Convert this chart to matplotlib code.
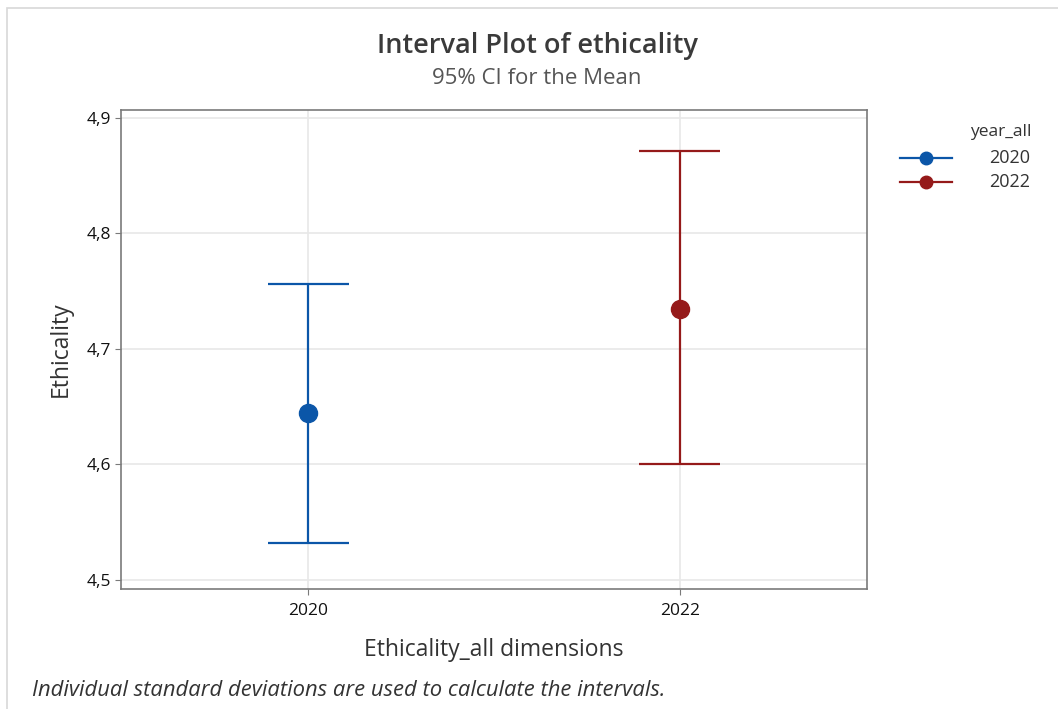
import matplotlib
matplotlib.use("Agg")
import matplotlib.pyplot as plt
from matplotlib.ticker import FuncFormatter
from matplotlib.lines import Line2D
from matplotlib.patches import Rectangle

# Interval data (mean and 95% CI bounds)
years = ["2020", "2022"]
means = [4.645, 4.735]
lower = [4.532, 4.600]
upper = [4.756, 4.871]
colors = ["#0B56A8", "#951A1A"]
y_ticks = [4.5, 4.6, 4.7, 4.8, 4.9]

plt.rcParams["font.family"] = ["Open Sans", "DejaVu Sans"]

W, H = 1058, 709
fig = plt.figure(figsize=(W / 100, H / 100), dpi=100)
ax = fig.add_axes([121 / W, 1 - 589 / H, (867 - 121) / W, (589 - 110) / H])

cap = 0.109
for i, (m, lo, hi, c) in enumerate(zip(means, lower, upper, colors)):
    ax.vlines(i, lo, hi, color=c, lw=1.6, zorder=3)
    ax.hlines([lo, hi], i - cap, i + cap, color=c, lw=1.6, zorder=3)
    ax.plot(i, m, "o", color=c, ms=13, zorder=4)

ax.set_xlim(-0.503, 1.503)
ax.set_ylim(4.4922, 4.9069)
ax.set_xticks(range(len(years)))
ax.set_xticklabels(years)
ax.set_yticks(y_ticks)
ax.yaxis.set_major_formatter(FuncFormatter(lambda v, p: f"{v:.1f}".replace(".", ",")))
ax.tick_params(labelsize=12.5, length=4, color="#7a7a7a", labelcolor="#111111", pad=3)
ax.tick_params(axis="x", pad=6)
ax.grid(True, color="#e8e8e8", lw=1.2, zorder=0)
ax.set_axisbelow(True)
for s in ax.spines.values():
    s.set_color("#7a7a7a")
    s.set_linewidth(1.2)

ax.set_ylabel("Ethicality", fontsize=16.5, color="#333333", labelpad=10)
ax.set_xlabel("Ethicality_all dimensions", fontsize=16.5, color="#333333", labelpad=14)

fig.text(537 / W, 1 - 46 / H, "Interval Plot of ethicality", ha="center", va="center",
         fontsize=19.5, color="#3a3a3a", fontweight="semibold")
fig.text(537 / W, 1 - 78 / H, "95% CI for the Mean", ha="center", va="center",
         fontsize=16, color="#555555")
fig.text(32 / W, 1 - 691 / H,
         "Individual standard deviations are used to calculate the intervals.",
         ha="left", va="center", fontsize=15.8, style="italic", color="#333333")

# legend, laid out by hand in figure pixels
fig.text(1032 / W, 1 - 132 / H, "year_all", ha="right", va="center",
         fontsize=12.5, color="#333333")
for k, (yr, c) in enumerate(zip(years, colors)):
    yy = 1 - (158 + 24 * k) / H
    fig.add_artist(Line2D([900 / W, 952 / W], [yy, yy], transform=fig.transFigure,
                          color=c, lw=1.6))
    fig.add_artist(Line2D([926 / W], [yy], transform=fig.transFigure,
                          color=c, marker="o", ms=9, lw=0))
    fig.text(1030 / W, yy, yr, ha="right", va="center", fontsize=13, color="#333333")

# outer frame
fig.patches.append(Rectangle((7 / W, -0.01), 1.2, 1 - 8 / H + 0.01,
                             transform=fig.transFigure, fill=False,
                             edgecolor="#d8d8d8", lw=1.2))

fig.savefig("out.png", dpi=100)
